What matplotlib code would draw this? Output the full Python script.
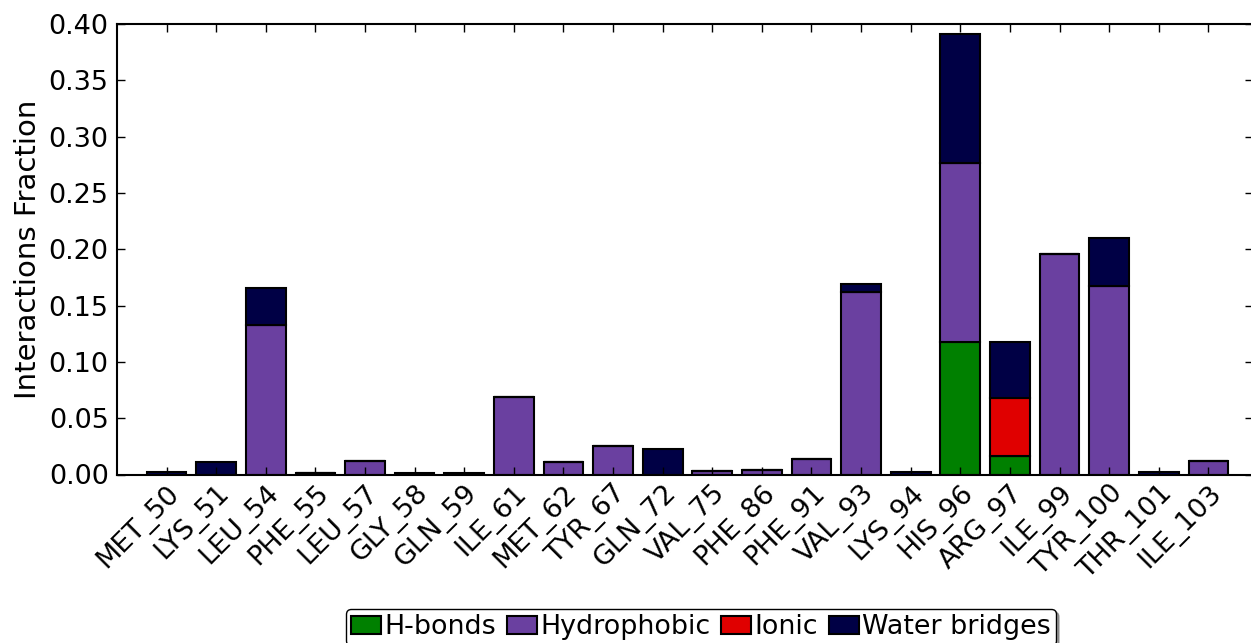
import matplotlib
matplotlib.use('Agg')
import matplotlib.pyplot as plt
import numpy as np

# Residue contacts, split by interaction type
residues = ['MET_50', 'LYS_51', 'LEU_54', 'PHE_55', 'LEU_57', 'GLY_58', 'GLN_59',
            'ILE_61', 'MET_62', 'TYR_67', 'GLN_72', 'VAL_75', 'PHE_86', 'PHE_91',
            'VAL_93', 'LYS_94', 'HIS_96', 'ARG_97', 'ILE_99', 'TYR_100', 'THR_101',
            'ILE_103']
hbonds = [0.0, 0.0, 0.0, 0.0, 0.0, 0.0, 0.0,
          0.0, 0.0, 0.0, 0.0, 0.0, 0.0, 0.0,
          0.0, 0.0, 0.118, 0.016, 0.0, 0.0, 0.0,
          0.0]
hydrophobic = [0.0, 0.0, 0.133, 0.001, 0.012, 0.0, 0.0,
               0.069, 0.011, 0.025, 0.0, 0.003, 0.004, 0.014,
               0.162, 0.0, 0.159, 0.0, 0.196, 0.167, 0.0,
               0.012]
ionic = [0.0, 0.0, 0.0, 0.0, 0.0, 0.0, 0.0,
         0.0, 0.0, 0.0, 0.0, 0.0, 0.0, 0.0,
         0.0, 0.0, 0.0, 0.052, 0.0, 0.0, 0.0,
         0.0]
water_bridges = [0.002, 0.011, 0.033, 0.0, 0.0, 0.001, 0.001,
                 0.0, 0.0, 0.0, 0.023, 0.0, 0.0, 0.0,
                 0.007, 0.002, 0.114, 0.050, 0.0, 0.043, 0.002,
                 0.0]

series = [('H-bonds', hbonds, '#008000'),
          ('Hydrophobic', hydrophobic, '#6A40A0'),
          ('Ionic', ionic, '#E00000'),
          ('Water bridges', water_bridges, '#000045')]

plt.rcParams['font.family'] = 'DejaVu Sans'

fig = plt.figure(figsize=(12.51, 6.43), dpi=100)
ax = fig.add_axes([117 / 1251, 1 - 474.5 / 643, 1136 / 1251, 450.5 / 643])

x = np.arange(len(residues))
bottom = np.zeros(len(residues))
for label, values, color in series:
    values = np.array(values)
    ax.bar(x, values, width=0.8, bottom=bottom, color=color, edgecolor='black',
           linewidth=1.5, label=label, align='center')
    bottom += values

ax.set_xlim(-1, 21.9)
ax.set_ylim(0, 0.40)
yticks = np.arange(0, 0.401, 0.05)
ax.set_yticks(yticks)
ax.set_yticklabels(['%.2f' % v for v in yticks], fontsize=19.5)
ax.set_xticks(x)
ax.set_xticklabels(residues, rotation=45, ha='right', va='top',
                   rotation_mode='anchor', fontsize=19.5)
ax.set_ylabel('Interactions Fraction', fontsize=21, labelpad=5)

ax.tick_params(direction='in', length=6, width=1, top=True, right=True)
ax.tick_params(axis='y', pad=6)
ax.tick_params(axis='x', pad=4)
for spine in ax.spines.values():
    spine.set_linewidth(1.5)

handles, labels = ax.get_legend_handles_labels()
fig.legend(handles, labels, loc='upper center', ncol=4,
           bbox_to_anchor=(701 / 1251, 1 - 609 / 643),
           fancybox=True, shadow=True, fontsize=19.4,
           handlelength=1.1, handleheight=0.7, handletextpad=0.12,
           columnspacing=0.42, borderpad=0.2, borderaxespad=0,
           framealpha=1, edgecolor='black')

fig.savefig('out.png', dpi=100)
